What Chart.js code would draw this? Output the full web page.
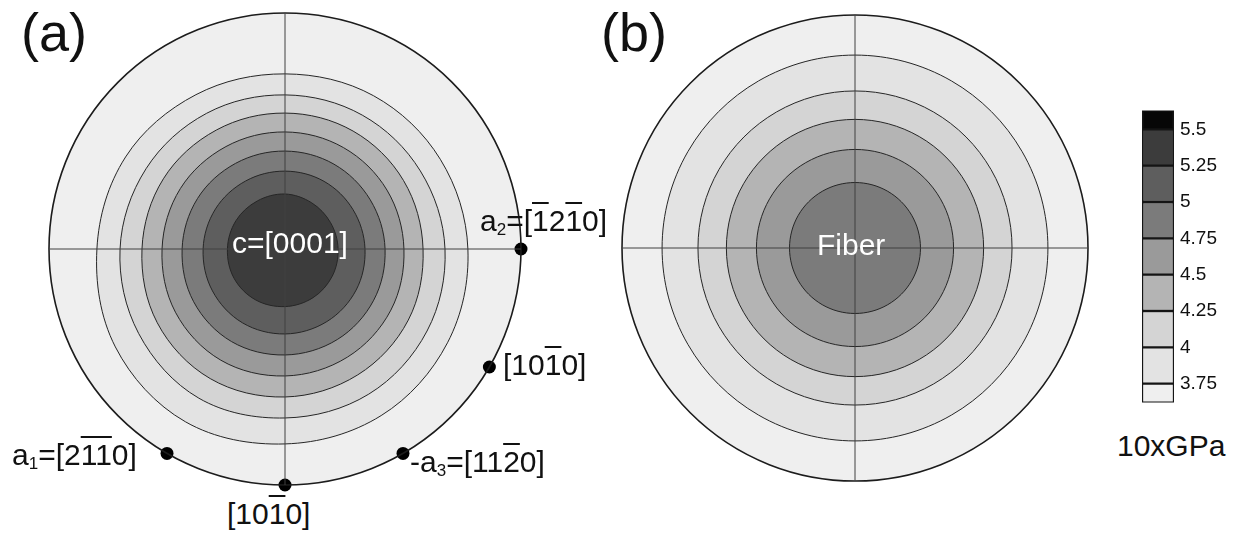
<!DOCTYPE html>
<html>
<head>
<meta charset="utf-8">
<script src="https://cdn.jsdelivr.net/npm/chart.js@4/dist/chart.umd.min.js"></script>
<style>
  body { margin: 0; background: #fff; width: 1238px; height: 538px; position: relative; overflow: hidden;
         font-family: 'Liberation Sans', Arial, sans-serif; color: #111; }
  canvas { position: absolute; }
  .t { position: absolute; font-size: 30px; line-height: 30px; white-space: nowrap; }
  .w { color: #fff; }
  .ob { text-decoration: overline; text-decoration-thickness: 2px; }
  .s { font-size: 17px; position: relative; top: 4px; }
  .big { font-size: 54px; line-height: 54px; }
</style>
</head>
<body>
<canvas id="poleA" width="492" height="492" style="left:39px;top:3px"></canvas>
<canvas id="poleB" width="486" height="486" style="left:612px;top:5px"></canvas>
<canvas id="legendBar" width="94" height="327" style="left:1140px;top:93px"></canvas>

<div class="t big" style="left:21px;top:5px">(a)</div>
<div class="t big" style="left:601px;top:5px">(b)</div>
<div class="t w" style="left:232px;top:228px">c=[0001]</div>
<div class="t w" style="left:817px;top:230px">Fiber</div>
<div class="t" style="left:480px;top:206px">a<span class="s">2</span>=[<span class="ob">1</span>2<span class="ob">1</span>0]</div>
<div class="t" style="left:503px;top:350px">[10<span class="ob">1</span>0]</div>
<div class="t" style="left:410px;top:447px">-a<span class="s">3</span>=[11<span class="ob">2</span>0]</div>
<div class="t" style="left:227px;top:499px">[10<span class="ob">1</span>0]</div>
<div class="t" style="left:12px;top:440px">a<span class="s">1</span>=[2<span class="ob">11</span>0]</div>
<div class="t" style="left:1117px;top:431px">10xGPa</div>

<script>
'use strict'

// directions, degrees clockwise from the top of the pole figure
const angles = ['0', '30', '60', '90', '120', '150', '180', '210', '240', '270', '300', '330'];

// contour levels (10xGPa) and grey of the band above each level
const levels = [3.75, 4, 4.25, 4.5, 4.75, 5, 5.25, 5.5];
const bandColors = ['#efefef', '#e3e3e3', '#d4d4d4', '#b4b4b4', '#9a9a9a', '#7b7b7b', '#5e5e5e', '#3c3c3c', '#070707'];

// (a) single crystal: contour radius at each direction, as a fraction of the circle radius
const a525 = [0.233, 0.226, 0.223, 0.225, 0.231, 0.238, 0.244, 0.249, 0.249, 0.244, 0.240, 0.235];
const a500 = [0.330, 0.331, 0.333, 0.339, 0.348, 0.355, 0.360, 0.361, 0.355, 0.347, 0.340, 0.333];
const a475 = [0.415, 0.415, 0.417, 0.424, 0.434, 0.443, 0.449, 0.453, 0.447, 0.436, 0.428, 0.419];
const a450 = [0.496, 0.496, 0.499, 0.504, 0.518, 0.529, 0.538, 0.544, 0.536, 0.521, 0.512, 0.501];
const a425 = [0.576, 0.577, 0.580, 0.585, 0.603, 0.616, 0.627, 0.634, 0.625, 0.606, 0.595, 0.582];
const a400 = [0.653, 0.655, 0.662, 0.678, 0.695, 0.710, 0.716, 0.730, 0.716, 0.699, 0.680, 0.664];
const a375 = [0.742, 0.750, 0.760, 0.775, 0.795, 0.815, 0.826, 0.845, 0.830, 0.797, 0.780, 0.755];
const contoursA = [a525, a500, a475, a450, a425, a400, a375];
const levelsA = [5.25, 5, 4.75, 4.5, 4.25, 4, 3.75];

// marked directions on the rim of (a)
const dotsA = [null, null, null, 1, 1, 1, 1, 1, null, null, null, null];

// (b) fiber texture: circular contours
const levelsB = [4.75, 4.5, 4.25, 4, 3.75];
const ringsB = [0.281, 0.423, 0.552, 0.674, 0.828];

// colour bar extent below 3.75 and above 5.5
const barMin = 3.62;
const barMax = 5.63;

// spline tension that makes 12 equal points a circle
const roundTension = 0.351;

function bandColor(level) {
  return bandColors[levels.indexOf(level) + 1];
}

function contourSet(radii, color, width) {
  return {
    data: radii,
    fill: 'origin',
    backgroundColor: color,
    borderColor: '#262626',
    borderWidth: width,
    pointRadius: 0,
    tension: roundTension,
  };
}

function poleFigure(id, contours, lvls, dots) {
  const datasets = [];
  if (dots) {
    datasets.push({
      data: dots,
      fill: false,
      showLine: false,
      backgroundColor: '#000',
      pointRadius: 6.5,
      pointBackgroundColor: '#000',
      pointBorderWidth: 0,
      clip: false,
    });
  }
  contours.forEach((radii, i) => datasets.push(contourSet(radii, bandColor(lvls[i]), 1)));
  // lowest band fills the whole circle
  datasets.push(contourSet(angles.map(() => 1), bandColors[0], 0));

  new Chart(document.getElementById(id), {
    type: 'radar',
    data: { labels: angles, datasets: datasets },
    options: {
      responsive: false,
      animation: false,
      layout: { padding: 10 },
      scales: {
        r: {
          min: 0,
          max: 1,
          ticks: { display: false, stepSize: 1 },
          pointLabels: { display: false },
          grid: { circular: true, color: '#1c1c1c', lineWidth: 1.6, z: 1 },
          angleLines: {
            display: true,
            color: (ctx) => ctx.index % 3 === 0 ? '#404040' : 'rgba(0,0,0,0)',
            lineWidth: (ctx) => ctx.index % 3 === 0 ? 1 : 0,
          },
        },
      },
      plugins: { legend: { display: false }, tooltip: { enabled: false } },
    },
  });
}

poleFigure('poleA', contoursA, levelsA, dotsA);
poleFigure('poleB', ringsB.map((r) => angles.map(() => r)), levelsB, null);

// colour bar
const edges = [barMin].concat(levels, [barMax]);
const barSets = bandColors.map((color, i) => ({
  data: [[edges[i], edges[i + 1]]],
  backgroundColor: color,
  borderColor: '#151515',
  borderWidth: 1.5,
  borderSkipped: false,
  grouped: false,
  barPercentage: 1,
  categoryPercentage: 1,
}));

new Chart(document.getElementById('legendBar'), {
  type: 'bar',
  data: { labels: [''], datasets: barSets },
  options: {
    responsive: false,
    animation: false,
    layout: { padding: { left: 2, top: 12, bottom: 12, right: 0 } },
    scales: {
      x: { display: false },
      y: {
        position: 'right',
        min: barMin,
        max: barMax,
        afterBuildTicks: (scale) => { scale.ticks = levels.map((v) => ({ value: v })); },
        afterFit: (scale) => { scale.width = 60; },
        grid: { display: false, drawTicks: false },
        border: { display: false },
        ticks: {
          color: '#111',
          padding: 6,
          font: { family: "'Liberation Sans', Arial, sans-serif", size: 19 },
          callback: (value) => String(value),
        },
      },
    },
    plugins: { legend: { display: false }, tooltip: { enabled: false } },
  },
});
</script>
</body>
</html>
